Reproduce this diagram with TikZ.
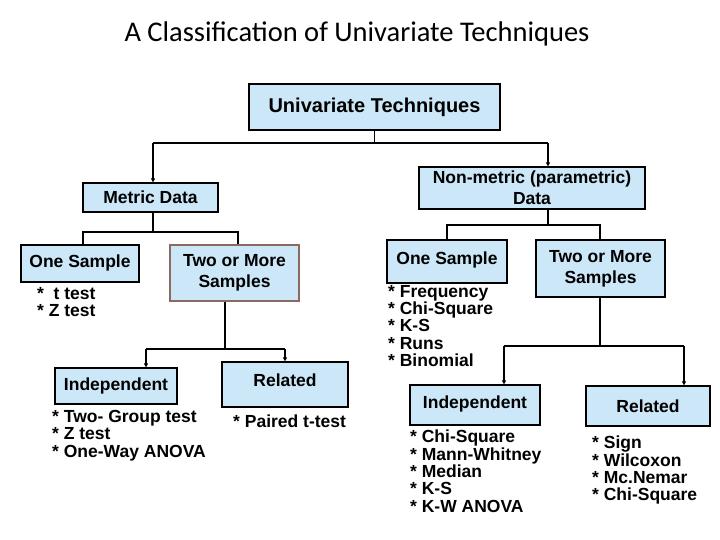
\documentclass[tikz,border=0pt]{standalone}
\usepackage{fontspec}
\setmainfont{Liberation Sans}
\newfontfamily\titlefont{Carlito}
\usetikzlibrary{arrows.meta}
\definecolor{boxfill}{HTML}{CCE8F8}
\definecolor{brownb}{HTML}{8A6A60}
\begin{document}
\begin{tikzpicture}[x=1pt,y=-1pt,
  box/.style={draw=black,line width=1.2pt,fill=boxfill,inner sep=0pt,align=center,font=\bfseries\fontsize{17.5}{21}\selectfont},
  lst/.style={anchor=north west,align=left,inner sep=0pt,font=\bfseries\fontsize{17.5}{17.3}\selectfont},
  ln/.style={line width=1.2pt},
  arr/.style={line width=1.2pt,-{Triangle[length=4pt,width=4pt]}}]
\useasboundingbox (0,0) rectangle (720,540);
\node[font=\titlefont\fontsize{28.5}{31}\selectfont] (title) at (357,34) {A Classification of Univariate Techniques};
\node[box,font=\bfseries\fontsize{20}{23}\selectfont,minimum width=251,minimum height=46] (uni) at (374.5,107) {Univariate Techniques};
\node[box,minimum width=135,minimum height=29] (met) at (150.5,197.5) {Metric Data};
\node[box,minimum width=226,minimum height=42] (non) at (532,188) {Non-metric (parametric)\\Data};
\node[box,minimum width=118,minimum height=37] (os1) at (80,263.5) {\raisebox{5pt}{One Sample}};
\node[box,draw=brownb,minimum width=129,minimum height=56] (tm1) at (234.5,273) {Two or More\\Samples};
\node[box,minimum width=120,minimum height=43] (os2) at (447,261.5) {\raisebox{6pt}{One Sample}};
\node[box,minimum width=129,minimum height=57] (tm2) at (600.5,268.5) {Two or More\\Samples};
\node[box,minimum width=122,minimum height=36] (in1) at (116,386) {Independent};
\node[box,minimum width=126,minimum height=45] (re1) at (285,384.5) {\raisebox{8pt}{Related}};
\node[box,minimum width=130,minimum height=40] (in2) at (475,405) {\raisebox{6pt}{Independent}};
\node[box,minimum width=124,minimum height=40] (re2) at (648,406) {Related};
\coordinate (u0) at (374.5,143);
\coordinate (ua) at (153,143);
\coordinate (ub) at (548,143);
\draw[ln] (uni.south) -- (u0);
\draw[ln] (ua) -- (ub);
\draw[arr] (ua) -- (met.north -| ua);
\draw[arr] (ub) -- (non.north -| ub);
\draw[ln] (met.south -| ua) -- (153,232) coordinate (m0);
\draw[ln] (os1.north -| 83,0) -- (83,232) -- (238,232) -- (tm1.north -| 238,0);
\draw[ln] (non.south -| ub) -- (548,225);
\draw[ln] (os2.north -| 447,0) -- (447,225) -- (600,225) -- (tm2.north -| 600,0);
\draw[ln] (tm1.south -| 225,0) -- (225,349);
\draw[ln] (146,349) -- (285,349);
\draw[arr] (146,349) -- (in1.north -| 146,0);
\draw[arr] (285,349) -- (re1.north -| 285,0);
\draw[ln] (tm2.south -| 600,0) -- (600,346);
\draw[ln] (504,346) -- (684,346);
\draw[arr] (504,346) -- (in2.north -| 504,0);
\draw[arr] (684,346) -- (re2.north -| 684,0);
\node[lst] (l1) at (37,287) {*\ \ t test\\* Z test};
\node[lst] (l2) at (388,285) {* Frequency\\* Chi-Square\\* K-S\\* Runs\\* Binomial};
\node[lst] (l3) at (52,410) {* Two- Group test\\* Z test\\* One-Way ANOVA};
\node[lst] (l4) at (233,415) {* Paired t-test};
\node[lst] (l5) at (410,430) {* Chi-Square\\* Mann-Whitney\\* Median\\* K-S\\* K-W ANOVA};
\node[lst] (l6) at (592,436) {* Sign\\* Wilcoxon\\* Mc.Nemar\\* Chi-Square};
\end{tikzpicture}
\end{document}
